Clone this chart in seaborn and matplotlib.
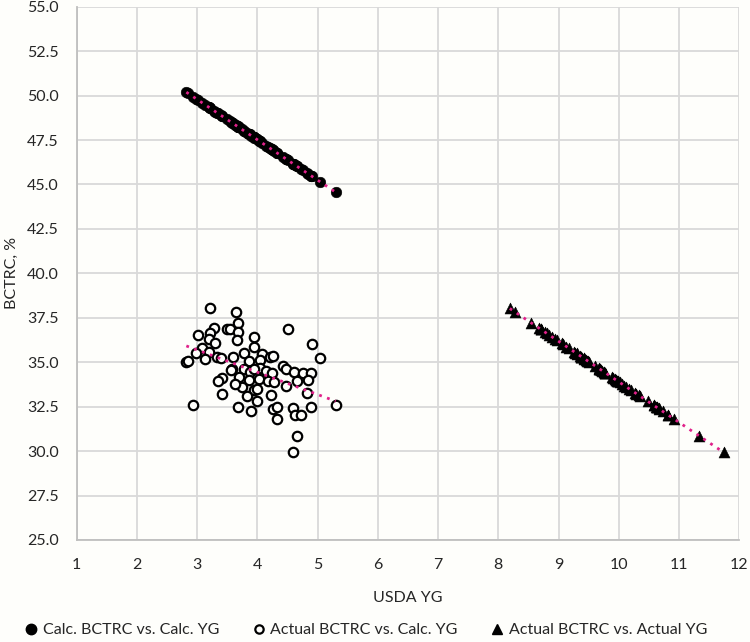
import numpy as np
import pandas as pd
import matplotlib
matplotlib.use("Agg")
import matplotlib.pyplot as plt
import seaborn as sns
from matplotlib.lines import Line2D

# ---- data ----
calc_yg = [3.22, 3.64, 3.68, 3.28, 3.49, 3.54, 3.68, 3.02, 3.22, 3.19,
           3.94, 3.66, 4.51, 4.91, 3.30, 3.08, 3.94, 2.98, 3.19, 2.82,
           2.84, 3.13, 3.33, 3.39, 3.59, 3.78, 3.86, 4.07, 4.04, 4.21,
           4.26, 5.04, 3.58, 3.56, 3.78, 3.87, 4.04, 4.15, 4.24, 4.43,
           4.48, 4.61, 4.75, 4.89, 3.42, 3.34, 3.69, 3.86, 4.02, 4.17,
           4.27, 4.65, 4.84, 3.74, 3.94, 4.48, 3.41, 3.82, 4.22, 4.82,
           3.99, 2.93, 3.67, 3.90, 4.26, 4.32, 4.32, 4.59, 4.63, 4.72,
           4.89, 5.30, 4.66, 4.59, 3.95, 3.63, 3.99]

actual_bctrc = [38.03, 37.82, 37.22, 36.92, 36.87, 36.87, 36.70, 36.53, 36.62, 36.31,
                36.42, 36.23, 36.87, 36.00, 36.06, 35.78, 35.87, 35.54, 35.59, 35.03,
                35.07, 35.19, 35.31, 35.22, 35.30, 35.50, 35.09, 35.47, 35.13, 35.30,
                35.35, 35.22, 34.64, 34.57, 34.62, 34.47, 34.66, 34.53, 34.42, 34.81,
                34.64, 34.47, 34.42, 34.42, 34.12, 33.97, 34.16, 34.01, 34.05, 33.93,
                33.86, 33.93, 34.01, 33.63, 33.45, 33.69, 33.24, 33.09, 33.13, 33.28,
                32.81, 32.57, 32.50, 32.23, 32.37, 32.46, 31.80, 32.40, 32.03, 32.03,
                32.46, 32.57, 30.87, 29.93, 34.63, 33.78, 33.50]

calc_bctrc = [49.28, 48.33, 48.24, 49.15, 48.67, 48.56, 48.24, 49.74, 49.28, 49.35,
              47.65, 48.28, 46.35, 45.45, 49.10, 49.60, 47.65, 49.83, 49.35, 50.19,
              50.14, 49.49, 49.03, 48.90, 48.44, 48.01, 47.83, 47.35, 47.42, 47.03,
              46.92, 45.15, 48.46, 48.51, 48.01, 47.81, 47.42, 47.17, 46.97, 46.54,
              46.42, 46.13, 45.81, 45.49, 48.83, 49.01, 48.22, 47.83, 47.47, 47.13,
              46.90, 46.04, 45.61, 48.10, 47.65, 46.42, 48.85, 47.92, 47.01, 45.65,
              47.53, 49.94, 48.26, 47.74, 46.92, 46.79, 46.79, 46.17, 46.08, 45.88,
              45.49, 44.56, 46.01, 46.17, 47.63, 48.35, 47.53]

actual_yg = [8.19, 8.28, 8.54, 8.67, 8.70, 8.70, 8.77, 8.84, 8.81, 8.94,
             8.89, 8.98, 8.70, 9.08, 9.05, 9.17, 9.13, 9.28, 9.26, 9.50,
             9.49, 9.43, 9.38, 9.42, 9.38, 9.30, 9.48, 9.31, 9.46, 9.38,
             9.36, 9.42, 9.67, 9.70, 9.68, 9.75, 9.67, 9.72, 9.77, 9.60,
             9.67, 9.75, 9.77, 9.77, 9.90, 9.97, 9.88, 9.95, 9.93, 9.99,
             10.02, 9.99, 9.95, 10.12, 10.20, 10.09, 10.29, 10.35, 10.34, 10.27,
             10.48, 10.58, 10.61, 10.73, 10.67, 10.63, 10.92, 10.66, 10.82, 10.82,
             10.63, 10.58, 11.33, 11.74, 9.68, 10.05, 10.17]

series_labels = ["Calc. BCTRC vs. Calc. YG",
                 "Actual BCTRC vs. Calc. YG",
                 "Actual BCTRC vs. Actual YG"]
x_ticks = list(range(1, 13))
y_ticks = [25.0, 27.5, 30.0, 32.5, 35.0, 37.5, 40.0, 42.5, 45.0, 47.5, 50.0, 52.5, 55.0]

df1 = pd.DataFrame({"x": calc_yg, "y": calc_bctrc})
df2 = pd.DataFrame({"x": calc_yg, "y": actual_bctrc})
df3 = pd.DataFrame({"x": actual_yg, "y": actual_bctrc})

# ---- style ----
sns.set_theme(style="whitegrid")
plt.rcParams["font.family"] = ["Lato", "DejaVu Sans"]
bg = "#fefefb"
grid_c = "#d9d9d9"
trend_c = "#e0218a"
txt_c = "#262626"

fig = plt.figure(figsize=(7.5, 6.42), dpi=100, facecolor=bg)
ax = fig.add_axes([0.1023, 0.1589, 0.8834, 0.8307])
ax.set_facecolor(bg)

sns.scatterplot(data=df1, x="x", y="y", ax=ax, marker="o", s=58,
                color="black", edgecolor="black", linewidth=0.4, zorder=3)
sns.scatterplot(data=df2, x="x", y="y", ax=ax, marker="o", s=46,
                facecolor=bg, edgecolor="black", linewidth=1.6, zorder=3)
sns.scatterplot(data=df3, x="x", y="y", ax=ax, marker="^", s=62,
                color="black", edgecolor="black", linewidth=0.4, zorder=3)

line_kws = dict(color=trend_c, linestyle=(0, (1, 2.0)), linewidth=2.0, zorder=4)
for d in (df1, df2, df3):
    sns.regplot(data=d, x="x", y="y", ax=ax, scatter=False, ci=None,
                truncate=True, line_kws=line_kws)

ax.set_xlim(1, 12)
ax.set_ylim(25, 55)
ax.set_xticks(x_ticks)
ax.set_yticks(y_ticks)
ax.set_xticklabels([str(v) for v in x_ticks])
ax.set_yticklabels([f"{v:.1f}" for v in y_ticks])
ax.tick_params(axis="both", length=0, labelsize=11.5, colors=txt_c)
ax.tick_params(axis="y", pad=13)
ax.tick_params(axis="x", pad=13)
ax.grid(True, color=grid_c, linewidth=1.3)
for side in ("top", "right"):
    ax.spines[side].set_visible(False)
for side in ("left", "bottom"):
    ax.spines[side].set_color("#bfbfbf")
    ax.spines[side].set_linewidth(1.3)

ax.set_xlabel("USDA YG", fontsize=11.5, color=txt_c, labelpad=14)
ax.set_ylabel("BCTRC, %", fontsize=11.5, color=txt_c)
ax.yaxis.set_label_coords(-0.088, 0.5)

handles = [
    Line2D([], [], marker="o", linestyle="none", markersize=7.5,
           markerfacecolor="black", markeredgecolor="black"),
    Line2D([], [], marker="o", linestyle="none", markersize=6,
           markerfacecolor=bg, markeredgecolor="black", markeredgewidth=1.6),
    Line2D([], [], marker="^", linestyle="none", markersize=7.5,
           markerfacecolor="black", markeredgecolor="black"),
]
leg = fig.legend(handles, series_labels, loc="lower center",
                 bbox_to_anchor=(0.487, 0.0), ncol=3, frameon=False,
                 fontsize=11.5, handletextpad=0.2, columnspacing=2.0,
                 handlelength=1.0, borderaxespad=0.1, borderpad=0.2)
for t in leg.get_texts():
    t.set_color(txt_c)

fig.savefig("out.png", dpi=100, facecolor=bg)
